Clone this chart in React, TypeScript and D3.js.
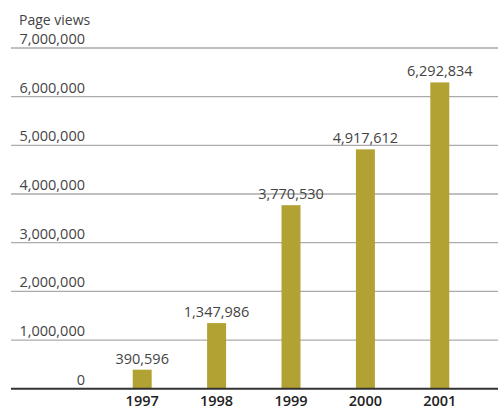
import React from "react";
import * as d3 from "d3";

const years = ["1997", "1998", "1999", "2000", "2001"];
const pageViews = [390596, 1347986, 3770530, 4917612, 6292834];
const yTicks = [0, 1000000, 2000000, 3000000, 4000000, 5000000, 6000000, 7000000];
const yTitle = "Page views";

const W = 498;
const H = 410;
const FONT = "'Open Sans', sans-serif";

export default function App() {
  const y = d3.scaleLinear().domain([0, 7000000]).range([388.7, 48]);
  const x = d3.scaleBand<string>().domain(years).range([105, 477]).padding(0);
  const barW = x.bandwidth() * 0.255;
  const fmt = d3.format(",");

  return (
    <svg
      width={W}
      height={H}
      style={{ position: "absolute", left: 0, top: 0, background: "#fff" }}
      fontFamily={FONT}
    >
      <text x={19} y={25} fontSize={14} fill="#444">
        {yTitle}
      </text>
      {yTicks.map((t) => (
        <g key={t}>
          {t !== 0 && (
            <line x1={11} x2={W} y1={y(t)} y2={y(t)} stroke="#ababab" strokeWidth={1.3} />
          )}
          <text x={85} y={y(t) - 4} textAnchor="end" fontSize={14.5} fill="#444">
            {fmt(t)}
          </text>
        </g>
      ))}
      {years.map((yr, i) => {
        const cx = (x(yr) as number) + x.bandwidth() / 2;
        const v = pageViews[i];
        return (
          <g key={yr}>
            <rect x={cx - barW / 2} y={y(v)} width={barW} height={y(0) - y(v)} fill="#b2a233" />
            <text x={cx} y={y(v) - 6} textAnchor="middle" fontSize={14.5} fill="#444">
              {fmt(v)}
            </text>
            <text x={cx} y={406} textAnchor="middle" fontSize={14.5} fontWeight={600} fill="#222">
              {yr}
            </text>
          </g>
        );
      })}
      <line x1={11} x2={W} y1={y(0)} y2={y(0)} stroke="#333" strokeWidth={2} />
    </svg>
  );
}
